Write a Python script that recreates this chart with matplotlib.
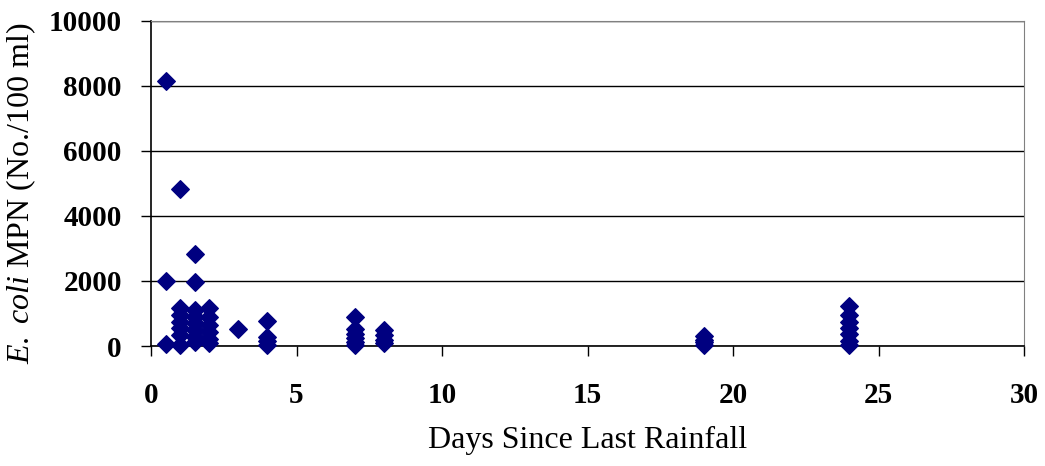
import matplotlib.pyplot as plt

# days since last rainfall and E. coli MPN
days = [0.5, 0.5, 0.5,
        1, 1, 1, 1, 1, 1, 1,
        1.5, 1.5, 1.5, 1.5, 1.5, 1.5, 1.5, 1.5,
        2, 2, 2, 2, 2, 2,
        3,
        4, 4, 4, 4,
        7, 7, 7, 7, 7, 7,
        8, 8, 8, 8,
        19, 19, 19, 19,
        24, 24, 24, 24, 24, 24, 24]
mpn = [8150, 2000, 60,
       4830, 1170, 950, 740, 550, 340, 30,
       2830, 1960, 1120, 890, 700, 490, 280, 120,
       1170, 900, 650, 430, 220, 80,
       510,
       780, 290, 150, 30,
       900, 520, 380, 240, 110, 20,
       490, 330, 200, 80,
       300, 200, 110, 30,
       1220, 950, 750, 560, 360, 160, 20]

x_ticks = [0, 5, 10, 15, 20, 25, 30]
y_ticks = [0, 2000, 4000, 6000, 8000, 10000]

plt.rcParams['font.family'] = ['Liberation Serif', 'DejaVu Serif']
plt.rcParams['mathtext.fontset'] = 'custom'
plt.rcParams['mathtext.rm'] = 'Liberation Serif'
plt.rcParams['mathtext.it'] = 'Liberation Serif:italic'

fig = plt.figure(figsize=(10.45, 4.66), dpi=100)
ax = fig.add_axes([0.1445, 0.2575, 0.8355, 0.6975])

ax.scatter(days, mpn, marker='D', s=80, color='#000080', zorder=3, clip_on=False)

ax.set_xlim(0, 30)
ax.set_ylim(0, 10000)
ax.set_xticks(x_ticks)
ax.set_yticks(y_ticks)
ax.set_xticklabels([str(t) for t in x_ticks], fontsize=21, fontweight='bold')
ax.set_yticklabels([str(t) for t in y_ticks], fontsize=21, fontweight='bold')
ax.tick_params(axis='both', direction='out', length=7, width=1, color='black')
ax.tick_params(axis='x', pad=19)
ax.tick_params(axis='y', pad=14)

ax.grid(axis='y', color='black', linewidth=1)
ax.set_axisbelow(True)

for side in ['top', 'right']:
    ax.spines[side].set_color('#808080')
for side in ['left', 'bottom']:
    ax.spines[side].set_color('black')
    ax.spines[side].set_linewidth(1.2)

ax.set_xlabel('Days Since Last Rainfall', fontsize=23, labelpad=12)
ax.set_ylabel(r'$\mathit{E.\ coli}$ MPN (No./100 ml)', fontsize=23)
ax.yaxis.set_label_coords(-0.129, 0.47)

fig.savefig('out.png', dpi=100)
